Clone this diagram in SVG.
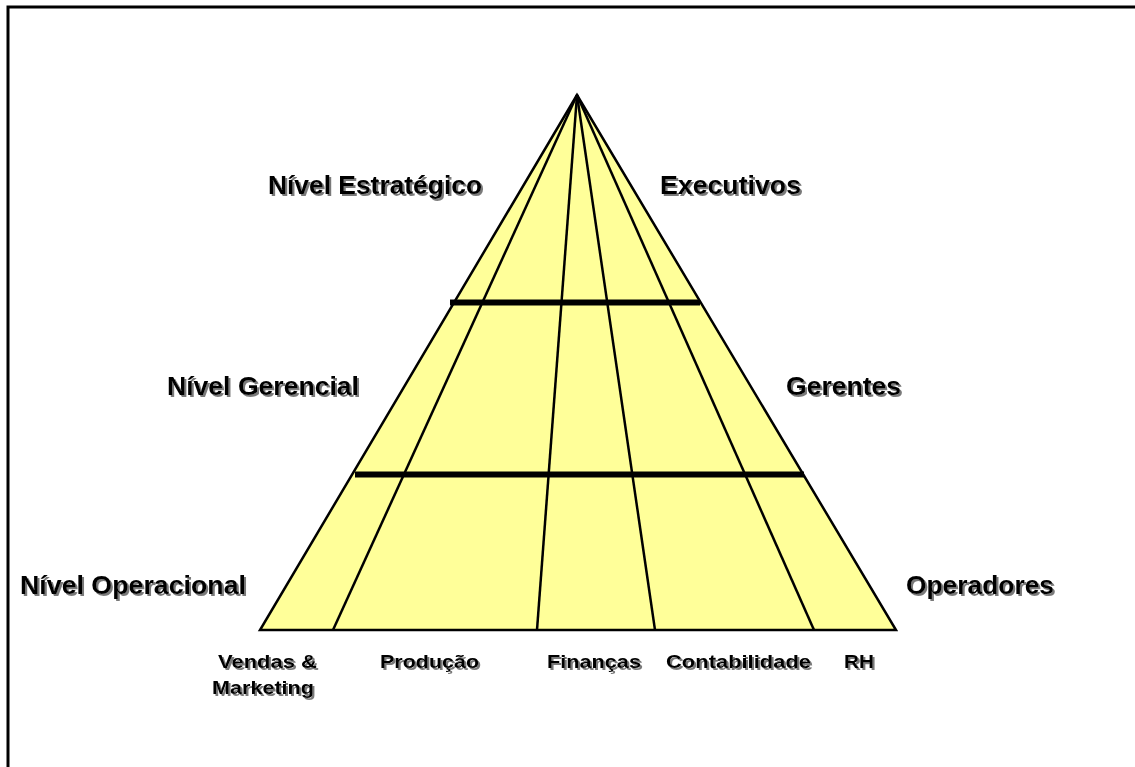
<svg xmlns="http://www.w3.org/2000/svg" width="1135" height="767" viewBox="0 0 1135 767">
  <defs>
    <filter id="shadow" x="-5%" y="-20%" width="110%" height="150%">
      <feDropShadow dx="2" dy="2" stdDeviation="0.6" flood-color="#7a7a7a" flood-opacity="1"/>
    </filter>
  </defs>
  <style>
    .frame { fill: none; stroke: #000; stroke-width: 3; }
    .pyramid { fill: #FFFF99; stroke: #000; stroke-width: 2.5; stroke-linejoin: miter; }
    .div { stroke: #000; stroke-width: 2.5; fill: none; }
    .bar { stroke: #000; stroke-width: 6; }
    .lvl { font-family: "Liberation Sans", Arial, sans-serif; font-weight: bold; font-size: 25.5px; fill: #000; filter: url(#shadow); }
    .dept { font-family: "Liberation Sans", Arial, sans-serif; font-weight: bold; font-size: 19px; fill: #000; filter: url(#shadow); }
  </style>

  <rect width="1135" height="767" fill="#fff"/>
  <!-- outer frame (open to the right and bottom) -->
  <rect class="frame" x="8" y="7" width="1200" height="800"/>

  <!-- pyramid body -->
  <g id="pyramid">
    <polygon class="pyramid" points="577,95 260,630 896,630"/>
  </g>

  <!-- department divisions and level bars -->
  <g id="connectors">
    <line class="div" x1="577" y1="95" x2="333" y2="630"/>
    <line class="div" x1="577" y1="95" x2="537" y2="630"/>
    <line class="div" x1="577" y1="95" x2="655" y2="630"/>
    <line class="div" x1="577" y1="95" x2="814" y2="630"/>
    <line class="bar" x1="450" y1="302.5" x2="700" y2="302.5"/>
    <line class="bar" x1="355" y1="474.5" x2="804" y2="474.5"/>
  </g>

  <!-- level labels -->
  <g id="nivel-estrategico"><text class="lvl" x="268" y="194" textLength="214" lengthAdjust="spacingAndGlyphs">Nível Estratégico</text></g>
  <g id="executivos"><text class="lvl" x="660" y="194" textLength="141" lengthAdjust="spacingAndGlyphs">Executivos</text></g>
  <g id="nivel-gerencial"><text class="lvl" x="167" y="395" textLength="192" lengthAdjust="spacingAndGlyphs">Nível Gerencial</text></g>
  <g id="gerentes"><text class="lvl" x="786" y="395" textLength="115" lengthAdjust="spacingAndGlyphs">Gerentes</text></g>
  <g id="nivel-operacional"><text class="lvl" x="20" y="594" textLength="226" lengthAdjust="spacingAndGlyphs">Nível Operacional</text></g>
  <g id="operadores"><text class="lvl" x="906" y="594" textLength="148" lengthAdjust="spacingAndGlyphs">Operadores</text></g>

  <!-- department labels -->
  <g id="vendas-marketing">
    <text class="dept" x="218" y="668" textLength="99" lengthAdjust="spacingAndGlyphs">Vendas &amp;</text>
    <text class="dept" x="212" y="694" textLength="102" lengthAdjust="spacingAndGlyphs">Marketing</text>
  </g>
  <g id="producao"><text class="dept" x="380" y="668" textLength="99" lengthAdjust="spacingAndGlyphs">Produção</text></g>
  <g id="financas"><text class="dept" x="547" y="668" textLength="94" lengthAdjust="spacingAndGlyphs">Finanças</text></g>
  <g id="contabilidade"><text class="dept" x="666" y="668" textLength="145" lengthAdjust="spacingAndGlyphs">Contabilidade</text></g>
  <g id="rh"><text class="dept" x="844" y="668" textLength="30" lengthAdjust="spacingAndGlyphs">RH</text></g>
</svg>
